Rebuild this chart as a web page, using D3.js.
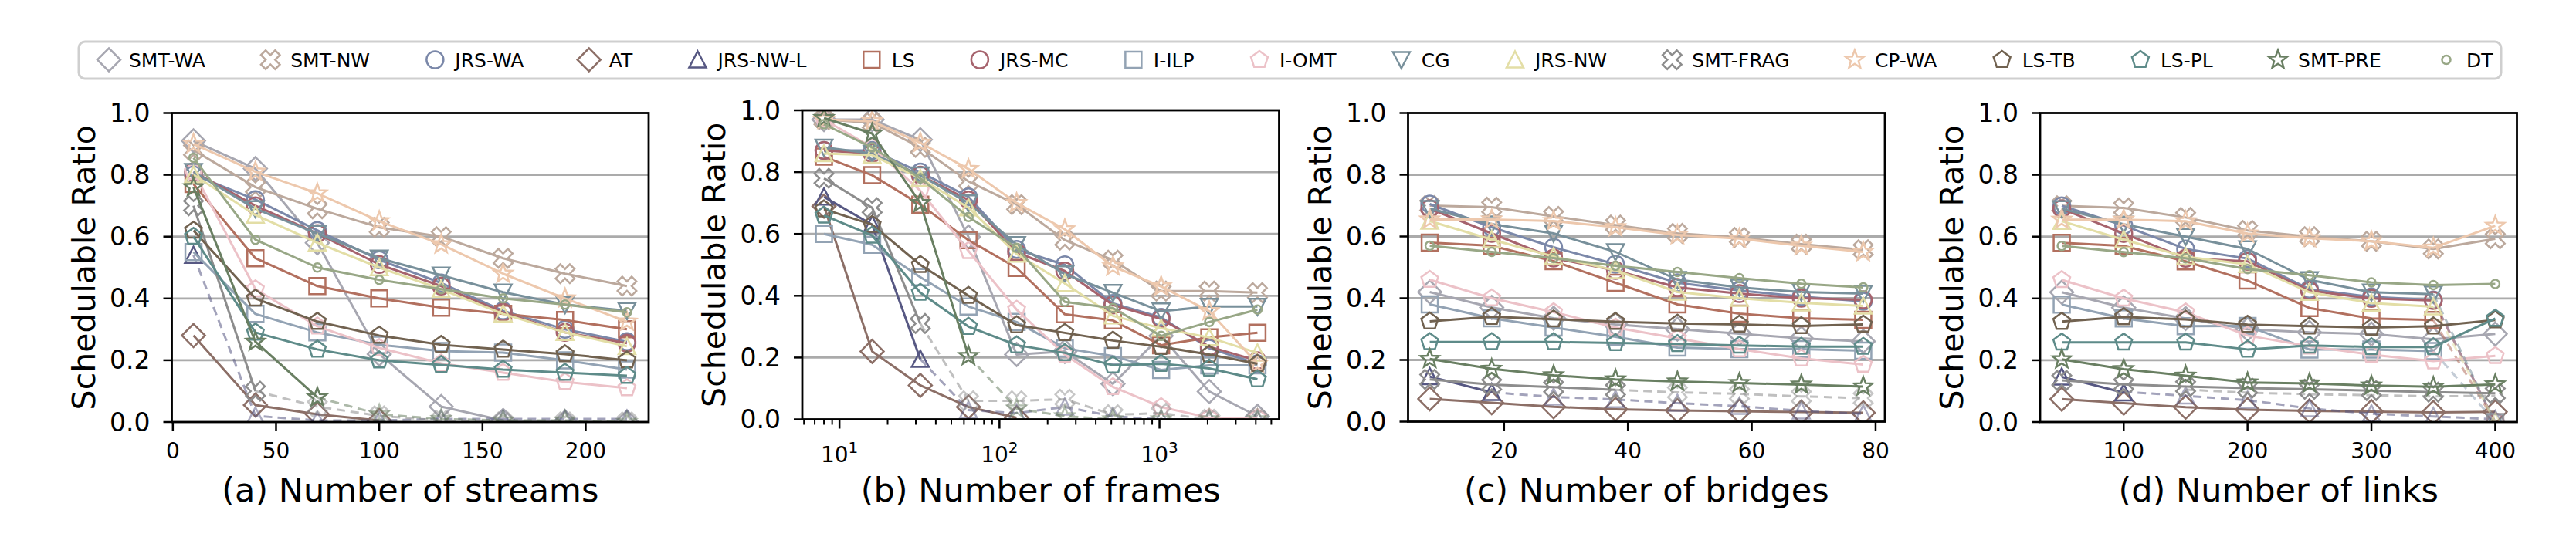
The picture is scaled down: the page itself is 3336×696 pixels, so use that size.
<!DOCTYPE html>
<html><head><meta charset="utf-8">
<script src="https://cdn.jsdelivr.net/npm/d3@7"></script>
<style>
body{margin:0;background:#fff}
text{font-family:"DejaVu Sans",sans-serif;fill:#000}
</style>
</head><body>
<svg id="c" width="3336" height="696"></svg>
<script>
// ---------- data ----------
const seriesNames = ["SMT-WA","SMT-NW","JRS-WA","AT","JRS-NW-L","LS","JRS-MC","I-ILP","I-OMT","CG","JRS-NW","SMT-FRAG","CP-WA","LS-TB","LS-PL","SMT-PRE","DT"];
const seriesColors = ["#a7a7b1","#bca99d","#7b88a9","#8c6f67","#575883","#b2705f","#a6636d","#93a3b4","#ecc2c8","#78909b","#e3dea6","#8d8d8d","#edc8ad","#716250","#5e8b89","#697f62","#98a786"];
const seriesMarkers = ["diamond","x","circle","diamond","triUp","square","circle","square","pentagon","triDown","triUp","x","star","pentagon","pentagon","star","dot"];

const xStreams = [10,40,70,100,130,160,190,220];
const xFrames = [8,16,32,64,128,256,512,1024,2048,4096];
const xBridges = [8,18,28,38,48,58,68,78];
const xLinks = [50,100,150,200,250,300,350,400];

const N = null;
// solid values, one row per series (order of seriesNames)
const ratioStreams = [
  [0.91,0.82,0.58,0.22,0.05,0.005,0.0,0.0],
  [0.88,0.76,0.69,0.63,0.60,0.53,0.48,0.44],
  [0.80,0.72,0.62,0.525,0.45,0.36,0.30,0.26],
  [0.28,0.055,0.025,0.005,N,N,N,N],
  [0.54,N,N,N,N,N,N,N],
  [0.77,0.53,0.44,0.40,0.37,0.35,0.33,0.30],
  [0.81,0.70,0.61,0.51,0.44,0.355,0.29,0.255],
  [0.55,0.35,0.29,0.25,0.23,0.225,0.20,0.17],
  [0.81,0.43,0.31,0.24,0.19,0.16,0.13,0.11],
  [0.81,0.69,0.61,0.53,0.475,0.42,0.38,0.36],
  [0.80,0.67,0.58,0.50,0.43,0.35,0.29,0.245],
  [0.70,0.10,N,N,N,N,N,N],
  [0.90,0.81,0.74,0.65,0.575,0.48,0.40,0.325],
  [0.62,0.40,0.325,0.28,0.25,0.235,0.22,0.20],
  [0.60,0.29,0.235,0.20,0.185,0.17,0.16,0.15],
  [0.76,0.26,0.08,N,N,N,N,N],
  [0.855,0.59,0.50,0.46,0.43,0.40,0.38,0.355]
];
// dashed (time-out) continuations
const dashStreams = [N,N,N,N,
  [0.54,0.02,0.005,0.005,0.01,0.01,0.01,0.01],
  N,N,N,N,N,N,
  [N,0.10,0.05,0.02,0.005,0.0,0.0,0.0],
  N,N,N,
  [N,N,0.08,0.025,0.01,0.005,0.005,0.0],
  N];

const ratioFrames = [
  [0.97,0.97,0.905,0.59,0.21,0.22,0.115,0.27,0.09,0.01],
  [0.97,0.96,0.88,0.77,0.695,0.58,0.515,0.415,0.415,0.41],
  [0.87,0.87,0.80,0.72,0.55,0.50,0.375,0.33,0.23,0.18],
  [0.69,0.22,0.11,0.04,0.005,N,N,N,N,N],
  [0.72,0.63,0.195,N,N,N,N,N,N,N],
  [0.85,0.79,0.695,0.58,0.49,0.34,0.32,0.24,0.265,0.28],
  [0.87,0.86,0.79,0.71,0.54,0.48,0.37,0.325,0.235,0.19],
  [0.60,0.565,0.46,0.365,0.315,0.23,0.205,0.16,0.175,0.175],
  [0.97,0.88,0.74,0.545,0.355,0.21,0.105,0.04,0.005,0.005],
  [0.88,0.86,0.79,0.70,0.565,0.47,0.41,0.35,0.365,0.365],
  [0.86,0.855,0.78,0.685,0.535,0.44,0.335,0.295,0.265,0.215],
  [0.78,0.685,0.31,N,N,N,N,N,N,N],
  [0.97,0.965,0.895,0.81,0.70,0.615,0.495,0.43,0.35,0.18],
  [0.68,0.63,0.50,0.40,0.305,0.28,0.255,0.235,0.21,0.18],
  [0.66,0.595,0.41,0.30,0.24,0.215,0.175,0.18,0.165,0.13],
  [0.975,0.925,0.70,0.205,N,N,N,N,N,N],
  [0.955,0.88,0.78,0.655,0.555,0.38,0.36,0.27,0.315,0.355]
];
const dashFrames = [N,N,N,N,
  [N,N,0.195,0.03,0.02,0.04,0.01,0.0,0.0,0.0],
  N,N,N,N,N,N,
  [N,N,0.31,0.06,0.06,0.065,0.015,0.02,0.0,0.0],
  N,N,N,
  [N,N,N,0.205,0.035,0.01,0.0,0.0,0.0,0.0],
  N];

const ratioBridges = [
  [0.42,0.37,0.335,0.315,0.30,0.285,0.27,0.26],
  [0.70,0.695,0.665,0.637,0.61,0.597,0.575,0.557],
  [0.705,0.63,0.565,0.51,0.45,0.425,0.405,0.39],
  [0.074,0.061,0.048,0.04,0.036,0.034,0.031,0.029],
  [0.146,0.095,N,N,N,N,N,N],
  [0.58,0.57,0.52,0.45,0.38,0.35,0.335,0.33],
  [0.69,0.61,0.53,0.49,0.435,0.415,0.40,0.395],
  [0.38,0.335,0.305,0.275,0.24,0.235,0.235,0.23],
  [0.46,0.40,0.355,0.305,0.27,0.235,0.205,0.185],
  [0.69,0.64,0.61,0.55,0.46,0.435,0.42,0.415],
  [0.65,0.59,0.535,0.49,0.42,0.40,0.385,0.375],
  [0.137,0.12,0.112,0.103,N,N,N,N],
  [0.655,0.655,0.65,0.63,0.605,0.593,0.57,0.55],
  [0.325,0.34,0.332,0.324,0.318,0.315,0.31,0.315],
  [0.258,0.258,0.258,0.255,0.252,0.247,0.243,0.243],
  [0.203,0.171,0.15,0.137,0.13,0.125,0.12,0.114],
  [0.57,0.55,0.53,0.505,0.485,0.465,0.447,0.435]
];
const dashBridges = [N,N,N,N,
  [N,0.095,0.08,0.072,0.06,0.05,0.035,0.025],
  N,N,N,N,N,N,
  [N,N,N,0.103,0.095,0.09,0.082,0.076],
  N,N,N,N,N];

const ratioLinks = [
  [0.42,0.37,0.335,0.30,0.29,0.285,0.268,0.285],
  [0.70,0.693,0.662,0.62,0.60,0.585,0.56,0.593],
  [0.70,0.636,0.56,0.529,0.43,0.405,0.395,N],
  [0.074,0.061,0.048,0.04,0.036,0.034,0.031,0.033],
  [0.146,0.095,N,N,N,N,N,N],
  [0.58,0.57,0.52,0.458,0.369,0.335,0.33,N],
  [0.69,0.61,0.53,0.52,0.425,0.40,0.393,N],
  [0.38,0.335,0.31,0.311,0.235,0.235,0.23,N],
  [0.46,0.40,0.355,0.28,0.245,0.218,0.197,0.214],
  [0.69,0.64,0.60,0.56,0.46,0.42,0.414,N],
  [0.65,0.59,0.535,0.51,0.42,0.385,0.373,N],
  [0.135,0.122,0.115,0.11,0.106,0.102,0.097,0.093],
  [0.655,0.655,0.65,0.61,0.595,0.585,0.564,0.635],
  [0.325,0.34,0.332,0.315,0.31,0.306,0.31,0.33],
  [0.258,0.258,0.258,0.235,0.248,0.243,0.243,0.335],
  [0.203,0.171,0.15,0.128,0.125,0.118,0.114,0.122],
  [0.57,0.55,0.53,0.495,0.475,0.452,0.443,0.447]
];
const dashLinks = [N,N,
  [N,N,N,N,N,N,0.395,0.0],
  N,
  [N,0.098,0.085,0.071,0.044,0.027,0.018,0.009],
  [N,N,N,N,N,N,0.33,0.0],
  [N,N,N,N,N,N,0.393,0.0],
  [N,N,N,N,N,N,0.23,0.0],
  N,
  [N,N,N,N,N,N,0.414,0.0],
  [N,N,N,N,N,N,0.373,0.0],
  [N,N,0.105,0.095,0.09,0.087,0.083,0.085],
  N,N,N,N,N];

const yTicks = [0,0.2,0.4,0.6,0.8,1.0];
const yGrid = [0.2,0.4,0.6,0.8];
const tickStreams = [0,50,100,150,200];
const tickFrames = [10,100,1000];
const tickBridges = [20,40,60,80];
const tickLinks = [100,200,300,400];
const yAxisTitle = "Schedulable Ratio";
const panelLabels = ["(a) Number of streams","(b) Number of frames","(c) Number of bridges","(d) Number of links"];

// ---------- drawing ----------
const svg = d3.select("#c");
const PW = 617.5;
const panels = [
  {xs:xStreams, vals:ratioStreams, dash:dashStreams, ticks:tickStreams, log:false, left:222.5, top:146.5, bottom:547},
  {xs:xFrames, vals:ratioFrames, dash:dashFrames, ticks:tickFrames, log:true, left:1039, top:143, bottom:543.5},
  {xs:xBridges, vals:ratioBridges, dash:dashBridges, ticks:tickBridges, log:false, left:1823.5, top:146.5, bottom:546.5},
  {xs:xLinks, vals:ratioLinks, dash:dashLinks, ticks:tickLinks, log:false, left:2642, top:146.5, bottom:547}
];

function circ(r){return `M${r},0A${r},${r} 0 1,1 ${-r},0A${r},${r} 0 1,1 ${r},0Z`;}
function poly(pts){return "M"+pts.map(p=>p[0].toFixed(2)+","+p[1].toFixed(2)).join("L")+"Z";}
function regPoly(n,r,inner){
  const pts=[];
  for(let i=0;i<n*(inner?2:1);i++){
    const k = inner?2*n:n;
    const a = -Math.PI/2 + i*2*Math.PI/k;
    const rr = inner ? (i%2? r*inner : r) : r;
    pts.push([rr*Math.cos(a), rr*Math.sin(a)]);
  }
  return poly(pts);
}
function xPath(L,t){
  const base=[[t,t],[t,L],[-t,L],[-t,t],[-L,t],[-L,-t],[-t,-t],[-t,-L],[t,-L],[t,-t],[L,-t],[L,t]];
  const c=Math.SQRT1_2;
  return poly(base.map(p=>[(p[0]-p[1])*c,(p[0]+p[1])*c]));
}
function markerPath(type){
  switch(type){
    case "circle": return circ(11);
    case "dot": return circ(5.5);
    case "square": return "M-10.5,-10.5H10.5V10.5H-10.5Z";
    case "diamond": return "M0,-15L15,0L0,15L-15,0Z";
    case "triUp": return "M0,-11L11,10L-11,10Z";
    case "triDown": return "M0,11L11,-10L-11,-10Z";
    case "pentagon": return regPoly(5,11.5);
    case "star": return regPoly(5,12.5,0.42);
    case "x": return xPath(13,4.3);
  }
}

panels.forEach((p,pi)=>{
  const g = svg.append("g");
  const right = p.left+PW;
  let x;
  if(p.log){
    const lo=Math.log10(d3.min(p.xs)), hi=Math.log10(d3.max(p.xs)), m=(hi-lo)*0.05;
    x = d3.scaleLog().domain([10**(lo-m),10**(hi+m)]).range([p.left,right]);
  } else {
    const lo=d3.min(p.xs), hi=d3.max(p.xs), m=(hi-lo)*0.05;
    x = d3.scaleLinear().domain([lo-m,hi+m]).range([p.left,right]);
  }
  const y = d3.scaleLinear().domain([0,1]).range([p.bottom,p.top]);

  g.selectAll("line.grid").data(yGrid).join("line")
    .attr("x1",p.left).attr("x2",right).attr("y1",d=>y(d)).attr("y2",d=>y(d))
    .attr("stroke","#ababab").attr("stroke-width",2.8);

  const clipId="clip"+pi;
  svg.append("clipPath").attr("id",clipId).append("rect")
    .attr("x",p.left).attr("y",p.top).attr("width",PW).attr("height",p.bottom-p.top);
  const dg = g.append("g").attr("clip-path",`url(#${clipId})`);
  const line = d3.line().defined(d=>d[1]!=null).x(d=>x(d[0])).y(d=>y(d[1]));

  seriesNames.forEach((name,si)=>{
    const col = seriesColors[si];
    const mk = markerPath(seriesMarkers[si]);
    const sg = dg.append("g");
    const dv = p.dash[si];
    if(dv){
      const pts = p.xs.map((xv,i)=>[xv,dv[i]]);
      sg.append("path").attr("d",line(pts)).attr("fill","none").attr("stroke",col)
        .attr("stroke-width",3).attr("stroke-dasharray","11,7").attr("opacity",0.55);
      sg.selectAll("path.dm").data(pts.filter((d,i)=>d[1]!=null && p.vals[si][i]==null)).join("path")
        .attr("d",mk).attr("transform",d=>`translate(${x(d[0])},${y(d[1])})`)
        .attr("fill","none").attr("stroke",col).attr("stroke-width",2.5).attr("opacity",0.5);
    }
    const pts = p.xs.map((xv,i)=>[xv,p.vals[si][i]]);
    sg.append("path").attr("d",line(pts)).attr("fill","none").attr("stroke",col)
      .attr("stroke-width",3).attr("stroke-linejoin","round");
    sg.selectAll("path.sm").data(pts.filter(d=>d[1]!=null)).join("path")
      .attr("d",mk).attr("transform",d=>`translate(${x(d[0])},${y(d[1])})`)
      .attr("fill","none").attr("stroke",col).attr("stroke-width",2.5);
  });

  g.append("rect").attr("x",p.left).attr("y",p.top).attr("width",PW).attr("height",p.bottom-p.top)
    .attr("fill","none").attr("stroke","#000").attr("stroke-width",2.8);

  yTicks.forEach(t=>{
    g.append("line").attr("x1",p.left-11).attr("x2",p.left).attr("y1",y(t)).attr("y2",y(t))
      .attr("stroke","#000").attr("stroke-width",2.5);
    g.append("text").attr("x",p.left-28).attr("y",y(t)).attr("text-anchor","end")
      .attr("dominant-baseline","central").attr("font-size",33).text(d3.format(".1f")(t));
  });
  if(p.log){
    const [d0,d1]=x.domain();
    const minors=[];
    for(let e=0;e<5;e++) for(let k=2;k<10;k++){const v=k*10**e; if(v>d0&&v<d1) minors.push(v);}
    minors.forEach(v=>g.append("line").attr("x1",x(v)).attr("x2",x(v)).attr("y1",p.bottom).attr("y2",p.bottom+7)
      .attr("stroke","#000").attr("stroke-width",2));
    p.ticks.forEach(t=>{
      g.append("line").attr("x1",x(t)).attr("x2",x(t)).attr("y1",p.bottom).attr("y2",p.bottom+12)
        .attr("stroke","#000").attr("stroke-width",2.5);
      const tx=g.append("text").attr("x",x(t)).attr("y",p.bottom+55).attr("text-anchor","middle").attr("font-size",28);
      tx.append("tspan").text("10");
      tx.append("tspan").attr("dy",-12).attr("font-size",20).text(String(Math.round(Math.log10(t))));
    });
  } else {
    p.ticks.forEach(t=>{
      g.append("line").attr("x1",x(t)).attr("x2",x(t)).attr("y1",p.bottom).attr("y2",p.bottom+12)
        .attr("stroke","#000").attr("stroke-width",2.5);
      g.append("text").attr("x",x(t)).attr("y",p.bottom+47).attr("text-anchor","middle")
        .attr("font-size",28).text(t);
    });
  }
  g.append("text").attr("transform",`translate(${p.left-100},${(p.top+p.bottom)/2}) rotate(-90)`)
    .attr("text-anchor","middle").attr("font-size",41).text(yAxisTitle);
  g.append("text").attr("x",p.left+PW/2).attr("y",649.5).attr("text-anchor","middle")
    .attr("font-size",43).text(panelLabels[pi]);
});

// ---------- legend (entries spread evenly between first and last marker) ----------
const lg = svg.append("g");
lg.append("rect").attr("x",102).attr("y",54).attr("width",3137).attr("height",48).attr("rx",8)
  .attr("fill","#fff").attr("stroke","#cfcfcf").attr("stroke-width",3);
const firstX = 141, lastX = 3168, textOff = 26;
const items = seriesNames.map((name,si)=>{
  const gi = lg.append("g");
  gi.append("path").attr("d",markerPath(seriesMarkers[si])).attr("fill","none")
    .attr("stroke",seriesColors[si]).attr("stroke-width",2.5);
  const t = gi.append("text").attr("x",textOff).attr("y",1).attr("dominant-baseline","central")
    .attr("font-size",25).text(name);
  return {gi, w: t.node().getComputedTextLength()};
});
const used = d3.sum(items.slice(0,-1), d=>textOff+d.w);
const gap = (lastX-firstX-used)/(items.length-1);
let cx = firstX;
items.forEach(it=>{
  it.gi.attr("transform",`translate(${cx},77.5)`);
  cx += textOff + it.w + gap;
});
</script>
</body></html>
